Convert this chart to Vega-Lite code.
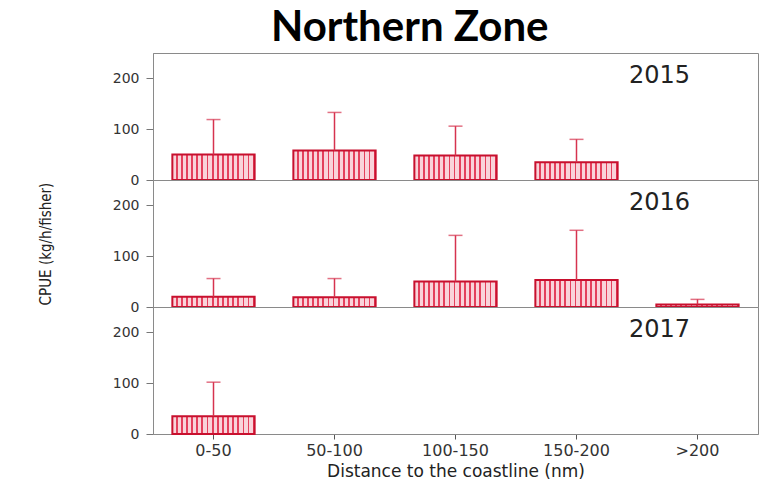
{
  "$schema": "https://vega.github.io/schema/vega-lite/v6.json",
  "padding": {"left": 38, "top": 6, "right": 3, "bottom": 5},
  "background": "white",
  "title": {"text": "Northern Zone", "font": "Lato", "fontSize": 42, "fontWeight": "bold", "color": "#000", "anchor": "middle", "dx": 11, "offset": 3},
  "data": {"values": [
    {"year": "2015", "dist": "0-50", "cpue": 50, "upper": 119},
    {"year": "2015", "dist": "50-100", "cpue": 58, "upper": 133},
    {"year": "2015", "dist": "100-150", "cpue": 48, "upper": 106},
    {"year": "2015", "dist": "150-200", "cpue": 35, "upper": 80},
    {"year": "2016", "dist": "0-50", "cpue": 20, "upper": 56},
    {"year": "2016", "dist": "50-100", "cpue": 19, "upper": 56},
    {"year": "2016", "dist": "100-150", "cpue": 50, "upper": 141},
    {"year": "2016", "dist": "150-200", "cpue": 53, "upper": 151},
    {"year": "2016", "dist": ">200", "cpue": 5, "upper": 15},
    {"year": "2017", "dist": "0-50", "cpue": 35, "upper": 102}
  ]},
  "facet": {"row": {"field": "year", "type": "nominal", "title": "CPUE (kg/h/fisher)",
    "header": {"labels": false, "titleFont": "DejaVu Sans Condensed", "titleFontSize": 15, "titleFontWeight": "normal", "titleColor": "#222", "titlePadding": 48}}},
  "spacing": 0,
  "bounds": "flush",
  "spec": {
    "width": 605,
    "height": 127,
    "layer": [
      {
        "mark": {"type": "bar", "stroke": "#c8102e", "strokeWidth": 2,
          "fill": {"gradient": "linear", "x1": 0, "x2": 1, "y1": 0, "y2": 0, "stops": [
            {"offset": 0, "color": "#f9d3da"}, {"offset": 0.04, "color": "#f9d3da"}, {"offset": 0.04, "color": "#e4405c"}, {"offset": 0.0625, "color": "#e4405c"},
            {"offset": 0.0625, "color": "#f9d3da"}, {"offset": 0.1025, "color": "#f9d3da"}, {"offset": 0.1025, "color": "#e4405c"}, {"offset": 0.125, "color": "#e4405c"},
            {"offset": 0.125, "color": "#f9d3da"}, {"offset": 0.165, "color": "#f9d3da"}, {"offset": 0.165, "color": "#e4405c"}, {"offset": 0.1875, "color": "#e4405c"},
            {"offset": 0.1875, "color": "#f9d3da"}, {"offset": 0.2275, "color": "#f9d3da"}, {"offset": 0.2275, "color": "#e4405c"}, {"offset": 0.25, "color": "#e4405c"},
            {"offset": 0.25, "color": "#f9d3da"}, {"offset": 0.29, "color": "#f9d3da"}, {"offset": 0.29, "color": "#e4405c"}, {"offset": 0.3125, "color": "#e4405c"},
            {"offset": 0.3125, "color": "#f9d3da"}, {"offset": 0.3525, "color": "#f9d3da"}, {"offset": 0.3525, "color": "#e4405c"}, {"offset": 0.375, "color": "#e4405c"},
            {"offset": 0.375, "color": "#f9d3da"}, {"offset": 0.415, "color": "#f9d3da"}, {"offset": 0.415, "color": "#e4405c"}, {"offset": 0.4375, "color": "#e4405c"},
            {"offset": 0.4375, "color": "#f9d3da"}, {"offset": 0.4775, "color": "#f9d3da"}, {"offset": 0.4775, "color": "#e4405c"}, {"offset": 0.5, "color": "#e4405c"},
            {"offset": 0.5, "color": "#f9d3da"}, {"offset": 0.54, "color": "#f9d3da"}, {"offset": 0.54, "color": "#e4405c"}, {"offset": 0.5625, "color": "#e4405c"},
            {"offset": 0.5625, "color": "#f9d3da"}, {"offset": 0.6025, "color": "#f9d3da"}, {"offset": 0.6025, "color": "#e4405c"}, {"offset": 0.625, "color": "#e4405c"},
            {"offset": 0.625, "color": "#f9d3da"}, {"offset": 0.665, "color": "#f9d3da"}, {"offset": 0.665, "color": "#e4405c"}, {"offset": 0.6875, "color": "#e4405c"},
            {"offset": 0.6875, "color": "#f9d3da"}, {"offset": 0.7275, "color": "#f9d3da"}, {"offset": 0.7275, "color": "#e4405c"}, {"offset": 0.75, "color": "#e4405c"},
            {"offset": 0.75, "color": "#f9d3da"}, {"offset": 0.79, "color": "#f9d3da"}, {"offset": 0.79, "color": "#e4405c"}, {"offset": 0.8125, "color": "#e4405c"},
            {"offset": 0.8125, "color": "#f9d3da"}, {"offset": 0.8525, "color": "#f9d3da"}, {"offset": 0.8525, "color": "#e4405c"}, {"offset": 0.875, "color": "#e4405c"},
            {"offset": 0.875, "color": "#f9d3da"}, {"offset": 0.915, "color": "#f9d3da"}, {"offset": 0.915, "color": "#e4405c"}, {"offset": 0.9375, "color": "#e4405c"},
            {"offset": 0.9375, "color": "#f9d3da"}, {"offset": 0.9775, "color": "#f9d3da"}, {"offset": 0.9775, "color": "#e4405c"}, {"offset": 1, "color": "#e4405c"}
          ]}},
        "encoding": {
          "x": {"field": "dist", "type": "nominal",
            "scale": {"domain": ["0-50", "50-100", "100-150", "150-200", ">200"], "paddingInner": 0.32, "paddingOuter": 0.16},
            "axis": {"title": "Distance to the coastline (nm)", "labelAngle": 0, "labelFont": "DejaVu Sans", "labelFontSize": 16, "labelColor": "#333", "labelPadding": 3,
              "titleFont": "DejaVu Sans", "titleFontSize": 17, "titleFontWeight": "normal", "titleColor": "#222", "titlePadding": 5,
              "tickSize": 5, "tickColor": "#555", "domainColor": "#888"}},
          "y": {"field": "cpue", "type": "quantitative",
            "scale": {"domain": [0, 250], "nice": false},
            "axis": {"title": null, "values": [0, 100, 200], "grid": false, "tickSize": 7, "tickColor": "#777", "domainColor": "#777",
              "labelFont": "DejaVu Sans", "labelFontSize": 14, "labelColor": "#333", "labelPadding": 7}}
        }
      },
      {
        "mark": {"type": "rule", "color": "#d6334f", "strokeWidth": 1.5},
        "encoding": {
          "x": {"field": "dist", "type": "nominal"},
          "y": {"field": "cpue", "type": "quantitative"},
          "y2": {"field": "upper"}
        }
      },
      {
        "mark": {"type": "tick", "color": "#d6334f", "size": 14, "thickness": 1.5},
        "encoding": {
          "x": {"field": "dist", "type": "nominal"},
          "y": {"field": "upper", "type": "quantitative"}
        }
      },
      {
        "transform": [{"filter": "datum.dist === '0-50'"}],
        "mark": {"type": "text", "font": "DejaVu Sans", "fontSize": 24, "color": "#222", "align": "center", "baseline": "middle", "dx": -38},
        "encoding": {
          "x": {"datum": ">200", "type": "nominal"},
          "y": {"datum": 205, "type": "quantitative"},
          "text": {"field": "year", "type": "nominal"}
        }
      }
    ]
  },
  "config": {"view": {"stroke": "#8a8a8a", "strokeWidth": 1}}
}
